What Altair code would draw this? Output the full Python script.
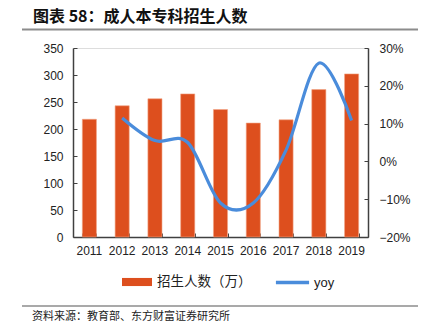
import altair as alt
import pandas as pd

years = ["2011", "2012", "2013", "2014", "2015", "2016", "2017", "2018", "2019"]
enroll = [218, 243, 256, 265, 236, 211, 217, 273, 302]
yoy = [None, 0.115, 0.055, 0.050, -0.110, -0.110, 0.030, 0.260, 0.108]

title_text = "图表 58：成人本专科招生人数"
source_text = "资料来源：教育部、东方财富证券研究所"
bar_name = "招生人数（万）"
line_name = "yoy"

left_ticks = [0, 50, 100, 150, 200, 250, 300, 350]
right_ticks = [-0.2, -0.1, 0, 0.1, 0.2, 0.3]

df = pd.DataFrame({"year": years, "enroll": enroll, "yoy": yoy})
df["bar_s"] = bar_name
df["line_s"] = line_name

W, H = 295, 189
CJK = "Noto Sans CJK SC"
LAT = "Liberation Sans"
AX = "#404040"

xscale = alt.Scale(paddingInner=0.57, paddingOuter=0.285)
lscale = alt.Scale(domain=[0, 350])
rscale = alt.Scale(domain=[-0.2, 0.3])

bars = alt.Chart(df).mark_bar(stroke="#F2A585", strokeWidth=0.6).encode(
    x=alt.X("year:N", scale=xscale, sort=years,
            axis=alt.Axis(title=None, labelAngle=0, labelFont=LAT, labelFontSize=12,
                          labelColor="#222222", domainColor=AX, domainWidth=1.5,
                          ticks=False, labelPadding=8)),
    y=alt.Y("enroll:Q", scale=lscale,
            axis=alt.Axis(title=None, values=left_ticks, labelFont=LAT,
                          labelFontSize=12, labelColor="#222222", domainColor=AX,
                          domainWidth=1.5, ticks=False, labelPadding=10, grid=False)),
    fill=alt.Fill("bar_s:N", scale=alt.Scale(domain=[bar_name], range=["#DD4F1E"]),
                  legend=alt.Legend(title=None, orient="none", legendX=49, legendY=219,
                                    symbolType="M-1,-0.27H1V0.27H-1Z", symbolSize=900,
                                    symbolStrokeWidth=0, labelFont=CJK, labelFontSize=13.5,
                                    labelColor="#222222", labelOffset=5)),
)

line = alt.Chart(df).mark_line(strokeWidth=3.2, interpolate="cardinal", tension=0).encode(
    x=alt.X("year:N", scale=xscale, sort=years,
            axis=alt.Axis(title=None, orient="top", offset=-H, labels=False, domain=False,
                          tickBand="extent", tickSize=4, tickColor=AX, tickWidth=1)),
    y=alt.Y("yoy:Q", scale=rscale,
            axis=alt.Axis(title=None, orient="right", format=".0%",
                          values=right_ticks, labelFont=LAT,
                          labelFontSize=12, labelColor="#222222", domainColor=AX,
                          domainWidth=1.5, ticks=False, labelPadding=11, grid=False)),
    stroke=alt.Stroke("line_s:N", scale=alt.Scale(domain=[line_name], range=["#4A8CDB"]),
                      legend=alt.Legend(title=None, orient="none", legendX=201, legendY=216,
                                        symbolType="stroke", symbolSize=1100,
                                        symbolStrokeWidth=3.5, labelFont=LAT,
                                        labelFontSize=13, labelColor="#222222",
                                        labelOffset=3)),
)

# inward-pointing tick marks on the two value axes
lticks = alt.Chart(df).mark_point(opacity=0).encode(
    y=alt.Y("enroll:Q", scale=lscale,
            axis=alt.Axis(title=None, orient="right", offset=-W, labels=False,
                          domain=False, values=left_ticks, tickSize=4, tickColor=AX,
                          tickWidth=1, grid=False)))
rticks = alt.Chart(df).mark_point(opacity=0).encode(
    y=alt.Y("yoy:Q", scale=rscale,
            axis=alt.Axis(title=None, orient="left", offset=-W, labels=False,
                          domain=False, values=right_ticks, tickSize=4, tickColor=AX,
                          tickWidth=1, grid=False)))

one = alt.Data(values=[{}])

title = alt.Chart(one).mark_text(text=title_text, align="left", baseline="middle",
                                 font=CJK, fontSize=16, fontWeight="bold",
                                 color="#111111").encode(
    x=alt.value(-40), y=alt.value(-31))
top_rule = alt.Chart(one).mark_rule(color="#8C8C8C", strokeWidth=2).encode(
    x=alt.value(-51), x2=alt.value(345), y=alt.value(-18.5))
bot_rule = alt.Chart(one).mark_rule(color="#555555", strokeWidth=1.2).encode(
    x=alt.value(-51), x2=alt.value(345), y=alt.value(258))
source = alt.Chart(one).mark_text(text=source_text, align="left", baseline="middle",
                                  font=CJK, fontSize=11, color="#222222").encode(
    x=alt.value(-41), y=alt.value(269))

chart = alt.layer(bars, line, lticks, rticks, title, top_rule, bot_rule, source).resolve_scale(
    y="independent", fill="independent", stroke="independent"
).resolve_axis(x="independent").properties(
    width=W, height=H,
    autosize=alt.AutoSizeParams(type="none"),
    padding={"left": 73, "top": 48, "right": 64, "bottom": 98},
).configure_view(stroke=None).configure(background="white")

chart.save("out.html", embed_options={"renderer": "svg", "actions": False})
